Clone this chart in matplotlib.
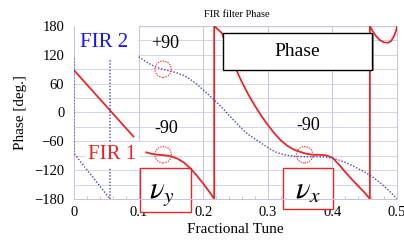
import matplotlib
matplotlib.use("Agg")
import matplotlib.pyplot as plt
from matplotlib.patches import Rectangle

plt.rcParams["font.family"] = ["Liberation Serif", "DejaVu Serif"]
plt.rcParams["mathtext.fontset"] = "stix"

# ── FIR 1 (red), wrapped phase ──
fir1_left_x = [0.0, 0.092]
fir1_left_y = [88, -50]
fir1_x = [0.112, 0.120, 0.130, 0.140, 0.150, 0.160, 0.170, 0.180, 0.190,
          0.200, 0.210, 0.217,
          0.217, 0.229, 0.240, 0.250, 0.260, 0.270, 0.280, 0.290, 0.300,
          0.310, 0.320, 0.330, 0.340, 0.350, 0.360, 0.370, 0.380, 0.390,
          0.400, 0.410, 0.420, 0.430, 0.440, 0.450, 0.458,
          0.458, 0.462, 0.467, 0.473, 0.480, 0.486, 0.491, 0.495, 0.498, 0.500]
fir1_y = [-83, -86, -88, -89, -91, -96, -104, -116, -131,
          -148, -166, -180,
          180, 165, 125, 92, 63, 37, 14, -7, -26,
          -43, -58, -69, -77, -82, -86, -88, -88, -89,
          -94, -108, -124, -139, -153, -167, -180,
          180, 170, 160, 151, 146, 145, 149, 158, 168, 178]

# ── FIR 2 (blue dotted) ──
fir2_left_x = [0.0, 0.0, 0.0557, 0.0557]
fir2_left_y = [113, -85, -180, 113]
fir2_x = [0.100, 0.110, 0.120, 0.130, 0.140, 0.150, 0.160, 0.170, 0.180,
          0.190, 0.200, 0.210, 0.220, 0.230, 0.240, 0.250, 0.260, 0.270,
          0.280, 0.290, 0.300, 0.310, 0.320, 0.330, 0.340, 0.350, 0.360,
          0.370, 0.380, 0.390, 0.400, 0.410, 0.420, 0.430, 0.440, 0.450,
          0.460, 0.470, 0.480, 0.490, 0.500]
fir2_y = [116, 107, 99, 93, 89, 86, 82, 77, 69,
          59, 47, 35, 22, 9, -6, -20, -34, -46,
          -55, -64, -73, -81, -86, -89, -91, -92, -92,
          -92, -92, -93, -95, -99, -104, -110, -117, -124,
          -132, -142, -153, -166, -180]

# marked -90/+90 crossings
circle_x = [0.138, 0.138, 0.357]
circle_y = [90, -88, -88]

fig = plt.figure(figsize=(4.04, 2.43), dpi=100)
ax = fig.add_axes([0.1832, 0.1811, 0.7995, 0.7119])
ax.set_xlim(0, 0.5)
ax.set_ylim(-180, 180)

# grid drawn by hand so the boxes can sit above it and below tick labels
for gx in [0.1, 0.2, 0.3, 0.4]:
    ax.axvline(gx, color="#c4c4de", lw=0.7, zorder=0.5)
for gy in range(-150, 180, 30):
    ax.axhline(gy, color="#d4d4e4", lw=0.7, zorder=0.5)
for s in ax.spines.values():
    s.set_color("#c4c4de")
    s.set_linewidth(0.7)
ax.spines["top"].set_visible(False)
ax.axhline(180, xmin=0.2, xmax=1.0, color="#c4c4de", lw=0.9, zorder=0.6)

# white panel behind "FIR 2"
ax.add_patch(Rectangle((0.0005, 115), 0.099, 70, fc="white", ec="none", zorder=0.8))

ax.set_xticks([0, 0.1, 0.2, 0.3, 0.4, 0.5])
ax.set_xticklabels(["0", "0.1", "0.2", "0.3", "0.4", "0.5"])
ax.set_yticks(range(-180, 181, 60))
ax.set_xticks([i * 0.02 for i in range(26)], minor=True)
ax.tick_params(axis="both", which="major", length=0, labelsize=10.5, colors="black")
ax.tick_params(axis="x", which="major", pad=5)
ax.tick_params(axis="y", which="major", pad=7)
ax.tick_params(axis="x", which="minor", direction="in", length=2.5, color="#bbbbcc")

ax.set_xlabel("Fractional Tune", fontsize=11, labelpad=3)
ax.set_ylabel("Phase [deg.]", fontsize=11, labelpad=5)
fig.text(0.587, 0.942, "FIR filter Phase", fontsize=7.5, ha="center", va="center")

# curves
ax.plot(fir1_left_x, fir1_left_y, color="#e8262a", lw=1.3, zorder=3)
ax.plot(fir1_x, fir1_y, color="#e8262a", lw=1.3, zorder=3)
ax.plot(fir2_left_x, fir2_left_y, color="#4040d0", lw=1.0, ls=(0, (1, 1.3)), zorder=3)
ax.plot(fir2_x, fir2_y, color="#4040d0", lw=1.0, ls=(0, (1, 1.3)), zorder=3)

ax.scatter(circle_x, circle_y, s=140, facecolors="none", edgecolors="#ff3030",
           linestyles=(0, (1, 1)), linewidths=0.9, zorder=4)

# tune boxes
ax.add_patch(Rectangle((0.1022, -207), 0.0789, 91.5, fc="white", ec="#e8262a",
                       lw=1.0, zorder=2.2, clip_on=False))
ax.add_patch(Rectangle((0.324, -200), 0.0774, 85, fc="white", ec="#e8262a",
                       lw=1.0, zorder=2.2, clip_on=False))
ax.text(0.136, -168, r"$\nu_y$", fontsize=22, ha="center", va="center", zorder=5,
        clip_on=False)
ax.text(0.362, -163, r"$\nu_x$", fontsize=22, ha="center", va="center", zorder=5,
        clip_on=False)

# "Phase" box with grey shadow
ax.add_patch(Rectangle((0.2335, 86), 0.2306, 77, fc="#9a9a9a", ec="none", zorder=5))
ax.add_patch(Rectangle((0.2307, 88.4), 0.2306, 77, fc="white", ec="black",
                       lw=1.0, zorder=5.1))
ax.text(0.346, 127, "Phase", fontsize=14, ha="center", va="center", zorder=6)

# labels
ax.text(0.0472, 146, "FIR 2", fontsize=15, color="#1515ff", ha="center",
        va="center", zorder=6)
ax.text(0.0596, -88, "FIR 1", fontsize=15, color="#f02020", ha="center",
        va="center", zorder=6,
        bbox=dict(fc="white", ec="none", pad=2.5))
ax.text(0.1409, 144, "+90", fontsize=13, ha="center", va="center", zorder=6)
ax.text(0.1435, -33, "-90", fontsize=13, ha="center", va="center", zorder=6)
ax.text(0.3627, -28, "-90", fontsize=13, ha="center", va="center", zorder=6)

fig.savefig("out.png", dpi=100)
